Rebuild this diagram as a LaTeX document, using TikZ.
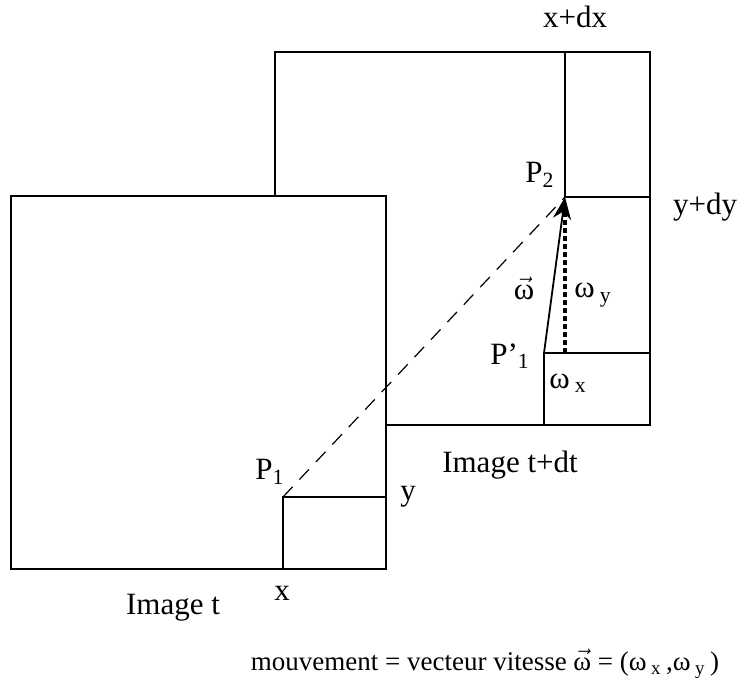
\documentclass[tikz,border=0pt]{standalone}
\usepackage{fontspec}
\setmainfont{Liberation Serif}
\usepackage{tikz}
\usetikzlibrary{arrows.meta, positioning}

\begin{document}
\begin{tikzpicture}[x=0.5pt, y=-0.5pt,
    frame/.style={draw, fill=white, line width=1pt},
    lbl/.style={inner sep=0pt, font=\fontsize{15.5}{18}\selectfont}]
    \useasboundingbox (0,0) rectangle (749,694);

    % image t+dt
    \draw[frame] (275,52) rectangle (650,425);
    \draw[line width=1pt] (565,52) -- (565,197) -- (650,197);
    \draw[line width=1pt] (544,425) -- (544,353) -- (650,353);

    % image t
    \draw[frame] (11,196) rectangle (386,569);
    \draw[line width=1pt] (283,569) -- (283,497) -- (386,497);

    \coordinate (P1) at (283,497);
    \coordinate (P2) at (565,197);
    \coordinate (Q1) at (544,353);
    \coordinate (Wy) at (565,353);

    \draw[dash pattern=on 7pt off 5pt, line width=0.6pt] (P1) -- (P2);
    \draw[line width=2pt, dash pattern=on 2.5pt off 1.5pt] (Wy) -- ([yshift=-8pt]P2);
    \draw[line width=0.9pt, -{Stealth[length=11pt, width=9pt]}] (Q1) -- (P2);

    % labels
    \node[lbl] (xdx) at (575,17) {x+dx};
    \node[lbl] (p2) at (540,175) {P\textsubscript{2}};
    \node[lbl] (ydy) at (705,207) {y+dy};
    \node[lbl] (w) at (524,288) {$\vec{\hbox{ω}}$};
    \node[lbl] (wy) at (593,295) {ω\,\textsubscript{y}};
    \node[lbl] (p1b) at (510,356) {P'\textsubscript{1}};
    \node[lbl] (wx) at (568,383) {ω\,\textsubscript{x}};
    \node[lbl] (imdt) at (510,465) {Image t+dt};
    \node[lbl] (p1) at (270,472) {P\textsubscript{1}};
    \node[lbl] (y) at (408,497) {y};
    \node[lbl] (x) at (282,593) {x};
    \node[lbl] (imt) at (173,608) {Image t};
    \node[lbl, font=\fontsize{13.5}{16}\selectfont] (legend) at (485,664)
        {mouvement = vecteur vitesse $\vec{\hbox{ω}}$ = (ω\,\textsubscript{x}\,,ω\,\textsubscript{y}\,)};
\end{tikzpicture}
\end{document}
